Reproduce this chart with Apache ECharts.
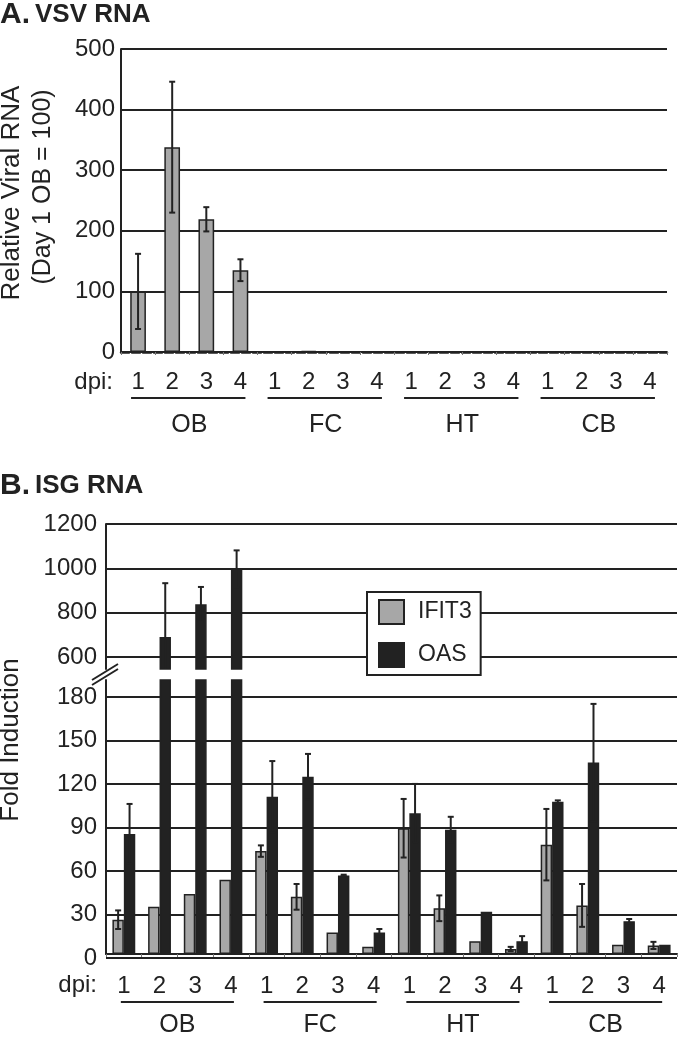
<!DOCTYPE html>
<html><head><meta charset="utf-8">
<script src="https://cdn.jsdelivr.net/npm/echarts@6/dist/echarts.min.js"></script>
<style>html,body{margin:0;padding:0;background:#fff}#c{width:680px;height:1038px}</style>
</head><body><div id="c"></div>
<script>
// ---------- data ----------
const groups = ['OB', 'FC', 'HT', 'CB'];
const dpiDays = ['1', '2', '3', '4'];
const categories = groups.flatMap(g => dpiDays.map(d => g + '-' + d));

// Panel A: VSV RNA (relative, day 1 OB = 100)
const vsvMean = [100, 338, 219, 135, 1, 2, 1, 1, 1, 1, 1, 1, 1, 1, 1, 1];
const vsvErr  = [62, 108, 20, 18, 0, 0, 0, 0, 0, 0, 0, 0, 0, 0, 0, 0];
const ticksA = [0, 100, 200, 300, 400, 500];

// Panel B: ISG RNA fold induction
const ifit3Mean = [24, 33, 42, 52, 72, 40, 15, 5, 88, 32, 9, 3.5, 76.5, 34, 6.5, 6];
const ifit3Err  = [6.5, 0, 0, 0, 4, 9, 0, 0, 20.5, 9, 0, 1.5, 25, 15, 0, 2.5];
const oasMean   = [84, 690, 838, 997, 110, 124, 55, 15, 98.5, 87, 29.5, 9, 106.5, 134, 23, 6.5];
const oasErr    = [21, 243, 78, 84, 25, 16, 0.5, 2.5, 20.5, 9, 0, 3.5, 1, 41, 1.5, 0];
const ticksBLow  = [0, 30, 60, 90, 120, 150, 180];
const ticksBHigh = [600, 800, 1000, 1200];

// ---------- layout ----------
const H = 1038;
const FONT = "'Liberation Sans', Arial, Helvetica, sans-serif";
const INK = '#222';
const GRAY = '#a7a7a7';
const yHiTop = 524, yHiLow = 657, yHiBarBottom = 669;
const yLoTop = 697, yLoBarTop = 680, yZeroB = 958;
const hiMin = ticksBHigh[0] - (yHiBarBottom - yHiLow) * (ticksBHigh[ticksBHigh.length - 1] - ticksBHigh[0]) / (yHiLow - yHiTop);
const loMax = ticksBLow[ticksBLow.length - 1] + (yLoTop - yLoBarTop) * (ticksBLow[ticksBLow.length - 1] - ticksBLow[0]) / (yZeroB - yLoTop);
const BAR_B = 0.32;

const chart = echarts.init(document.getElementById('c'), null, {renderer: 'canvas'});

const gridLine = {show: true, lineStyle: {color: INK, width: 2}};
const lblY = (m) => ({show: true, fontSize: 24, color: INK, fontFamily: FONT, margin: m, formatter: v => String(v)});
const numLabel = (m) => ({show: true, interval: 0, fontSize: 24, color: INK, fontFamily: FONT, margin: m,
  formatter: v => v.split('-')[1]});
const grpLabel = (m) => ({show: true, interval: 0, fontSize: 25, color: INK, fontFamily: FONT, margin: m});

function errData(mean, err) {
  const out = [];
  mean.forEach((m, i) => { if (err[i] > 0) out.push([i, m - err[i], m + err[i]]); });
  return out;
}
function errSeries(xi, yi, mean, err, side, frac) {
  return {
    type: 'custom', xAxisIndex: xi, yAxisIndex: yi, clip: true, z: 5, silent: true,
    data: errData(mean, err), encode: {x: 0, y: [1, 2]},
    renderItem: function (params, api) {
      const i = api.value(0);
      const cw = api.size([1, 0])[0];
      const lo = api.coord([i, api.value(1)]);
      const hi = api.coord([i, api.value(2)]);
      const x = lo[0] + side * cw * frac / 2;
      const cap = 3;
      const st = {stroke: INK, lineWidth: 2};
      return {type: 'group', children: [
        {type: 'line', shape: {x1: x, y1: lo[1], x2: x, y2: hi[1]}, style: st},
        {type: 'line', shape: {x1: x - cap, y1: hi[1], x2: x + cap, y2: hi[1]}, style: st},
        {type: 'line', shape: {x1: x - cap, y1: lo[1], x2: x + cap, y2: lo[1]}, style: st}
      ]};
    }
  };
}
function barSeries(name, xi, yi, data, color) {
  return {
    name: name, type: 'bar', xAxisIndex: xi, yAxisIndex: yi, data: data, clip: true,
    barWidth: (BAR_B * 100) + '%', barGap: '0%',
    itemStyle: {color: color, borderColor: INK, borderWidth: 1.5}
  };
}
const titleRich = {a: {fontSize: 30, fontWeight: 'bold', fontFamily: FONT, color: INK},
                   b: {fontSize: 26, fontWeight: 'bold', fontFamily: FONT, color: INK}};

const option = {
  animation: false,
  backgroundColor: '#fff',
  title: [
    {left: 0, top: 0, padding: 0, text: '{a|A.} {b|VSV RNA}', textStyle: {rich: titleRich}},
    {left: 0, top: 471, padding: 0, text: '{a|B.} {b|ISG RNA}', textStyle: {rich: titleRich}}
  ],
  legend: {
    data: ['IFIT3', 'OAS'], orient: 'vertical', left: 367, top: 592,
    itemWidth: 25, itemHeight: 24, itemGap: 17, padding: [7, 9, 7, 11],
    borderColor: INK, borderWidth: 2, backgroundColor: '#fff', borderRadius: 0,
    icon: 'rect', selectedMode: false,
    textStyle: {fontSize: 23, color: INK, fontFamily: FONT, padding: [0, 0, 0, 9]}
  },
  grid: [
    {left: 121, right: 13, top: 49, bottom: H - 352},
    {left: 106, right: 3, top: yHiTop, bottom: H - yHiLow},
    {left: 106, right: 3, top: yHiTop, bottom: H - yHiBarBottom},
    {left: 106, right: 3, top: yLoTop, bottom: H - yZeroB},
    {left: 106, right: 3, top: yLoBarTop, bottom: H - yZeroB}
  ],
  xAxis: [
    {gridIndex: 0, type: 'category', data: categories,
      axisLine: {show: true, lineStyle: {color: INK, width: 2.5, type: [8, 3]}},
      axisTick: {show: true, length: 3, lineStyle: {color: '#777'}},
      axisLabel: numLabel(18)},
    {gridIndex: 0, type: 'category', data: groups, position: 'bottom', offset: 52,
      axisLine: {show: false}, axisTick: {show: false}, axisLabel: grpLabel(9)},
    {gridIndex: 1, type: 'category', data: categories, show: false},
    {gridIndex: 2, type: 'category', data: categories, show: false},
    {gridIndex: 3, type: 'category', data: categories, show: false},
    {gridIndex: 4, type: 'category', data: categories,
      axisLine: {show: true, lineStyle: {color: INK, width: 2}},
      axisTick: {show: true, length: 3, lineStyle: {color: '#777'}},
      axisLabel: numLabel(20)},
    {gridIndex: 4, type: 'category', data: groups, position: 'bottom', offset: 50,
      axisLine: {show: false}, axisTick: {show: false}, axisLabel: grpLabel(9)}
  ],
  yAxis: [
    {gridIndex: 0, type: 'value', min: ticksA[0], max: ticksA[ticksA.length - 1], interval: ticksA[1] - ticksA[0],
      axisLine: {show: true, lineStyle: {color: INK, width: 2}}, axisTick: {show: false},
      splitLine: gridLine, axisLabel: lblY(6)},
    {gridIndex: 1, type: 'value', min: ticksBHigh[0], max: ticksBHigh[ticksBHigh.length - 1], interval: ticksBHigh[1] - ticksBHigh[0],
      axisLine: {show: false}, axisTick: {show: false}, splitLine: gridLine, axisLabel: lblY(9)},
    {gridIndex: 2, type: 'value', min: hiMin, max: ticksBHigh[ticksBHigh.length - 1],
      axisLine: {show: true, lineStyle: {color: INK, width: 2}}, axisTick: {show: false},
      splitLine: {show: false}, axisLabel: {show: false}},
    {gridIndex: 3, type: 'value', min: ticksBLow[0], max: ticksBLow[ticksBLow.length - 1], interval: ticksBLow[1] - ticksBLow[0],
      axisLine: {show: false}, axisTick: {show: false}, splitLine: gridLine, axisLabel: lblY(9)},
    {gridIndex: 4, type: 'value', min: 0, max: loMax,
      axisLine: {show: true, lineStyle: {color: INK, width: 2}}, axisTick: {show: false},
      splitLine: {show: false}, axisLabel: {show: false}}
  ],
  series: [
    {name: 'VSV', type: 'bar', xAxisIndex: 0, yAxisIndex: 0, data: vsvMean, barWidth: '46%',
      itemStyle: {color: GRAY, borderColor: INK, borderWidth: 1.5}},
    errSeries(0, 0, vsvMean, vsvErr, 0, 0),
    barSeries('IFIT3', 3, 2, ifit3Mean, GRAY),
    barSeries('OAS', 3, 2, oasMean, INK),
    barSeries('IFIT3', 5, 4, ifit3Mean, GRAY),
    barSeries('OAS', 5, 4, oasMean, INK),
    errSeries(3, 2, oasMean, oasErr, 1, BAR_B),
    errSeries(5, 4, ifit3Mean, ifit3Err, -1, BAR_B),
    errSeries(5, 4, oasMean, oasErr, 1, BAR_B)
  ]
};
chart.setOption(option);

// ---------- decorations (positions derived from the axes) ----------
function underlines(xi, yi, dy, padL, padR) {
  const y = chart.convertToPixel({yAxisIndex: yi}, 0) + dy;
  return groups.map(g => ({
    type: 'line',
    shape: {x1: chart.convertToPixel({xAxisIndex: xi}, g + '-1') - padL, y1: y,
            x2: chart.convertToPixel({xAxisIndex: xi}, g + '-4') + padR, y2: y},
    style: {stroke: INK, lineWidth: 2}
  }));
}
function vText(text, x, y, size) {
  return {type: 'text', x: x, y: y, rotation: Math.PI / 2,
    style: {text: text, font: size + 'px ' + FONT, fill: INK, align: 'center', verticalAlign: 'middle'}};
}
function hText(text, x, y, size) {
  return {type: 'text', x: x, y: y,
    style: {text: text, font: size + 'px ' + FONT, fill: INK, align: 'right', verticalAlign: 'middle'}};
}
const yA0 = chart.convertToPixel({yAxisIndex: 0}, 0);
const yB0 = chart.convertToPixel({yAxisIndex: 4}, 0);
const graphics = [
  vText('Relative Viral RNA', 12, 193, 26),
  vText('(Day 1 OB = 100)', 43, 187, 25),
  vText('Fold Induction', 11, 740, 26),
  hText('dpi:', 113, yA0 + 30, 24),
  hText('dpi:', 97, yB0 + 31, 24),
  {type: 'line', shape: {x1: 92, y1: 680, x2: 118, y2: 664}, style: {stroke: INK, lineWidth: 2}},
  {type: 'line', shape: {x1: 92, y1: 685, x2: 118, y2: 669}, style: {stroke: INK, lineWidth: 2}}
].concat(underlines(0, 0, 46, 7, 5), underlines(5, 4, 48, 3, 3));
chart.setOption({graphic: graphics});
</script>
</body></html>
